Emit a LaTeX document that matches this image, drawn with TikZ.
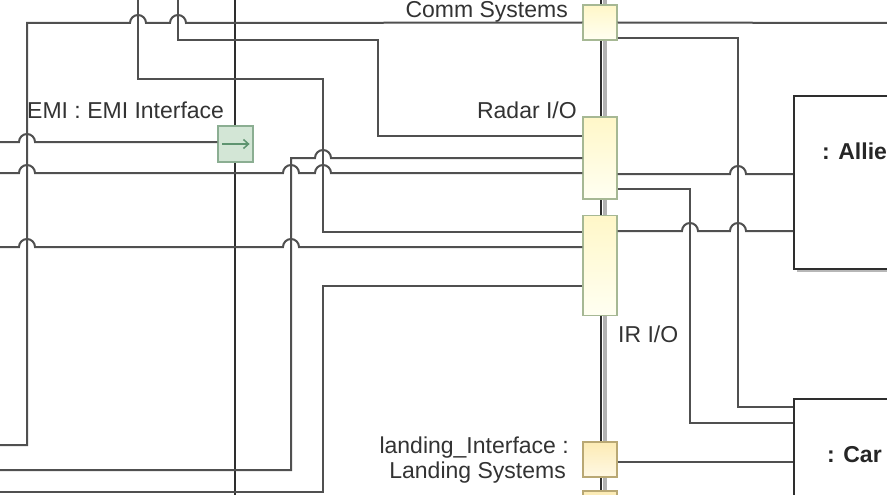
\documentclass[tikz,border=0pt]{standalone}
\usepackage{fontspec}
\setmainfont{Liberation Sans}
\usetikzlibrary{arrows.meta,shadows}
\definecolor{wirec}{HTML}{505050}
\definecolor{darkc}{HTML}{2E2E2E}
\definecolor{portedge}{HTML}{A6B894}
\definecolor{porttop}{HTML}{FFF7C8}
\definecolor{portbot}{HTML}{FFFFF2}
\definecolor{landedge}{HTML}{B9A874}
\definecolor{landtop}{HTML}{FCEBB4}
\definecolor{landbot}{HTML}{FFF8E4}
\definecolor{emifill}{HTML}{D3E6D6}
\definecolor{emiedge}{HTML}{8BAE92}
\definecolor{emiarrow}{HTML}{5E9470}
\definecolor{txtc}{HTML}{333333}
\newcommand{\hop}[2]{-- (#1-8,#2) arc[start angle=180,end angle=0,radius=8pt]}
\tikzset{
  x=1pt, y=1pt,
  wire/.style={draw=wirec, line width=2pt, line join=miter},
  portbox/.style={rectangle, draw=portedge, line width=1.2pt, top color=porttop, bottom color=portbot, inner sep=0pt, minimum width=34pt},
  landbox/.style={rectangle, draw=landedge, line width=1.2pt, top color=landtop, bottom color=landbot, inner sep=0pt, minimum width=34pt, minimum height=35pt},
  partbox/.style={rectangle, draw=darkc, fill=white, line width=2pt, inner sep=0pt, anchor=north west,
    drop shadow={shadow xshift=3pt, shadow yshift=-3pt, fill=black!35, opacity=0.8}},
  lbl/.style={font=\fontsize{23}{25}\selectfont, text=txtc, inner sep=0pt},
  blbl/.style={font=\fontsize{23}{25}\selectfont\bfseries, text=black!85, inner sep=0pt},
}
\begin{document}
\begin{tikzpicture}
\useasboundingbox (0,0) rectangle (887,-495);
\clip (0,0) rectangle (887,-495);
\fill[white] (0,0) rectangle (887,-495);

% free ends
\coordinate (pA) at (0,-445);
\coordinate (t1) at (138,0);
\coordinate (t2) at (178,0);
\coordinate (l142) at (0,-142);
\coordinate (l173) at (0,-173);
\coordinate (l470) at (0,-470);
\coordinate (l247) at (0,-247);
\coordinate (l492) at (0,-492);
\coordinate (r23) at (887,-23);
\coordinate (busT) at (601,0);
\coordinate (busB) at (601,-495);
\coordinate (busST) at (604.5,0);
\coordinate (busSB) at (604.5,-495);
\coordinate (emiT) at (235,0);
\coordinate (emiB) at (235,-495);

% part boxes on the right
\node[partbox, minimum width=230pt, minimum height=173pt] (allied) at (793,-95) {};
\node[partbox, minimum width=230pt, minimum height=160pt] (car) at (793,-398) {};
\node[blbl, anchor=base west] (alliedT) at (822,-159) {: Allie};
\node[blbl, anchor=base west] (carT) at (827,-462) {: Car};

% EMI line and the bus
\draw[darkc, line width=2pt] (emiT) -- (emiB);
\draw[black!30, line width=4pt] (busST) -- (busSB);
\draw[darkc, line width=2.8pt] (busT) -- (busB);

% ports
\node[portbox, minimum height=35pt] (comm) at (600,-22.5) {};
\node[portbox, minimum height=82pt] (radar) at (600,-158) {};
\node[portbox, minimum height=100pt] (ir) at (600,-265.5) {};
\node[landbox] (landing) at (600,-459.5) {};
\node[landbox] (lower) at (600,-508.5) {};
\node[rectangle, draw=emiedge, fill=emifill, line width=1.2pt, minimum width=35pt, minimum height=36pt, inner sep=0pt] (emi) at (235.5,-144) {};
\draw[emiarrow, line width=1.5pt, -{Straight Barb[length=5pt,width=9pt]}] ([xshift=5pt]emi.west) -- ([xshift=-4pt]emi.east);

% connectors, left side
\draw[wire] (pA) -- (27,-445) -- (27,-23) \hop{138}{-23} \hop{178}{-23} -- (comm.west);
\draw[wire] (t1) -- (138,-79) -- (323,-79) -- (323,-232) -- (ir.west |- 0,-232);
\draw[wire] (t2) -- (178,-40) -- (378,-40) -- (378,-136) -- (radar.west |- 0,-136);
\draw[wire] (l142) \hop{27}{-142} -- (emi.west |- 0,-142);
\draw[wire] (l173) \hop{27}{-173} \hop{291}{-173} \hop{323}{-173} -- (radar.west |- 0,-173);
\draw[wire] (l470) -- (291,-470) -- (291,-158) \hop{323}{-158} -- (radar.west |- 0,-158);
\draw[wire] (l247) \hop{27}{-247} \hop{291}{-247} -- (ir.west |- 0,-247);
\draw[wire] (l492) -- (323,-492) -- (323,-286) -- (ir.west |- 0,-286);

% connectors, right side
\draw[wire] (comm.east) -- (r23);
\draw[wire] (comm.east |- 0,-38) -- (738,-38) -- (738,-407) -- (car.west |- 0,-407);
\draw[wire] (radar.east |- 0,-174) \hop{738}{-174} -- (allied.west |- 0,-174);
\draw[wire] (radar.east |- 0,-189) -- (690,-189) -- (690,-423) -- (car.west |- 0,-423);
\draw[wire] (ir.east |- 0,-231) \hop{690}{-231} \hop{738}{-231} -- (allied.west |- 0,-231);
\draw[wire] (landing.east |- 0,-462) -- (car.west |- 0,-462);

% labels
\node[lbl, anchor=base east] (commT) at (568,-18) {Comm Systems};
\node[lbl, anchor=base east] (radarT) at (577,-118) {Radar I/O};
\node[lbl, anchor=base west] (emiT2) at (27,-118) {EMI : EMI Interface};
\node[lbl, anchor=base west] (irT) at (618,-342) {IR I/O};
\node[lbl, anchor=base east] (landT1) at (569,-453) {landing\_Interface :};
\node[lbl, anchor=base east] (landT2) at (566,-478) {Landing Systems};
\end{tikzpicture}
\end{document}
